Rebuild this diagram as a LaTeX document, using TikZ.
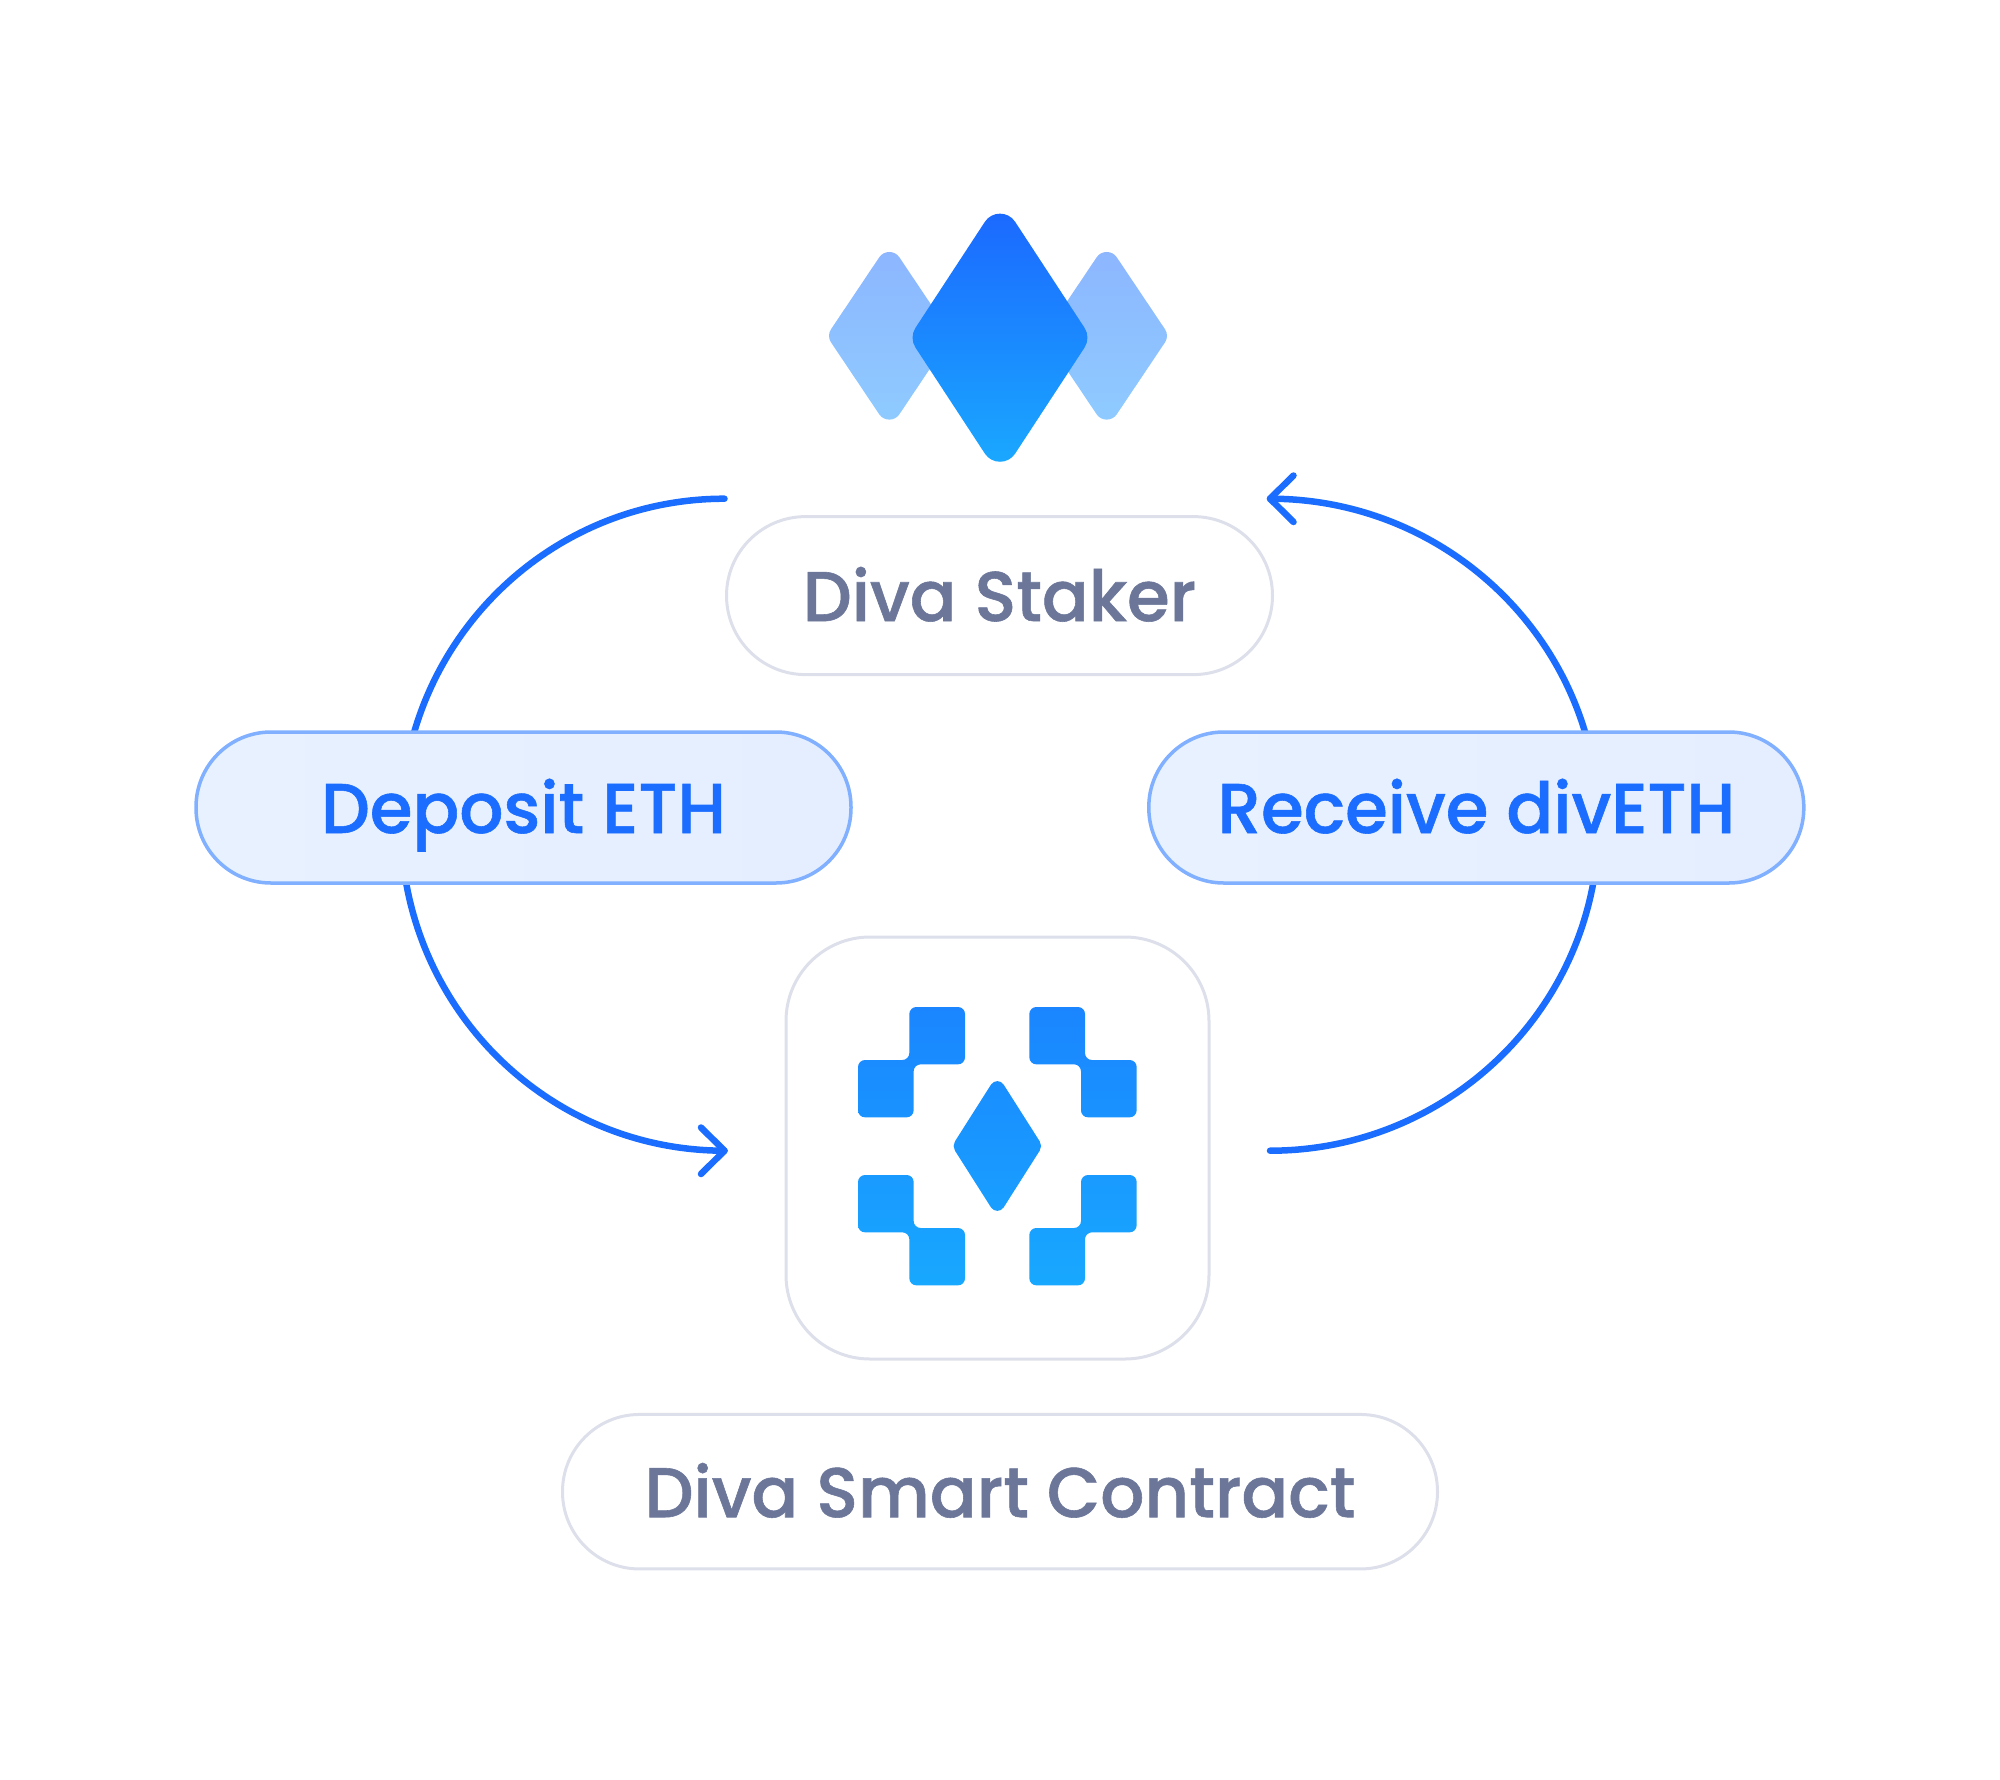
\documentclass[tikz,border=0pt]{standalone}
\usepackage{fontspec}
\setmainfont{Poppins Medium}[FakeStretch=0.98,FakeBold=0.8]
\definecolor{lineblue}{HTML}{1B6DFF}
\definecolor{pillblue}{HTML}{80B0FF}
\definecolor{greyline}{HTML}{DDE0EA}
\definecolor{greytext}{HTML}{6B7699}
\definecolor{pillfillA}{HTML}{E8F1FF}
\definecolor{pillfillB}{HTML}{E4EEFF}
\definecolor{logoTop}{RGB}{27,105,255}
\definecolor{logoBot}{RGB}{26,168,255}
\definecolor{softTop}{RGB}{141,182,255}
\definecolor{softBot}{RGB}{142,203,255}
\definecolor{iconTop}{RGB}{26,133,255}
\definecolor{iconBot}{RGB}{24,168,255}
% rounded diamond path: cx cy hw hh ftop fside
\newcommand\rdiam[6]{
 ({#1-#3*#5},{#2-#4*(1-#5)})
 .. controls ({#1-#3*#5*.53},{#2-#4*(1-#5*.53)}) and ({#1+#3*#5*.53},{#2-#4*(1-#5*.53)}) .. ({#1+#3*#5},{#2-#4*(1-#5)})
 -- ({#1+#3*(1-#6)},{#2-#4*#6})
 .. controls ({#1+#3*(1-#6*.4)},{#2-#4*#6*.4}) and ({#1+#3*(1-#6*.4)},{#2+#4*#6*.4}) .. ({#1+#3*(1-#6)},{#2+#4*#6})
 -- ({#1+#3*#5},{#2+#4*(1-#5)})
 .. controls ({#1+#3*#5*.53},{#2+#4*(1-#5*.53)}) and ({#1-#3*#5*.53},{#2+#4*(1-#5*.53)}) .. ({#1-#3*#5},{#2+#4*(1-#5)})
 -- ({#1-#3*(1-#6)},{#2+#4*#6})
 .. controls ({#1-#3*(1-#6*.4)},{#2+#4*#6*.4}) and ({#1-#3*(1-#6*.4)},{#2-#4*#6*.4}) .. ({#1-#3*(1-#6)},{#2-#4*#6})
 -- cycle }
\tikzset{
 arcline/.style={draw=lineblue,line width=6.5pt,line cap=round,line join=round},
 pillbase/.style={rounded corners=#1,inner sep=0pt,text height=51pt,text depth=0pt,align=center,font=\fontsize{70.5}{72}\selectfont},
 greypill/.style={pillbase=#1,draw=greyline,line width=3pt,fill=white,text=greytext},
 bluepill/.style={pillbase=#1,draw=pillblue,line width=3.5pt,left color=pillfillA,right color=pillfillB,text=lineblue},
 softgrad/.style={top color=softTop,bottom color=softBot},
 logograd/.style={top color=logoTop,bottom color=logoBot},
 icongrad/.style={top color=iconTop,bottom color=iconBot},
}
\begin{document}
\begin{tikzpicture}[x=1pt,y=-1pt]
\useasboundingbox (0,0) rectangle (2000,1780);
% connector coordinates
\coordinate (ltop) at (724.5,498.7);
\coordinate (lmid) at (401,824.6);
\coordinate (lbot) at (724.5,1150.7);
\coordinate (rtop) at (1270,498.7);
\coordinate (rmid) at (1598.5,824.6);
\coordinate (rbot) at (1270,1150.7);
\coordinate (lw1) at (701,1127.5);
\coordinate (lw2) at (701,1174);
\coordinate (rw1) at (1293.5,475.5);
\coordinate (rw2) at (1293.5,522);
\draw[arcline] (ltop) .. controls +(-179,0) and +(0,-180) .. (lmid) .. controls +(0,180) and +(-179,0) .. (lbot);
\draw[arcline] (rbot) .. controls +(181,0) and +(0,180) .. (rmid) .. controls +(0,-180) and +(181,0) .. (rtop);
\draw[arcline] (lw1) -- (lbot) -- (lw2);
\draw[arcline] (rw1) -- (rtop) -- (rw2);
% top logo
\shade[softgrad] \rdiam{889.3}{335.8}{62.7}{93.5}{.16}{.07};
\shade[softgrad] \rdiam{1106.7}{335.8}{62.7}{93.5}{.16}{.07};
\shade[logograd] \rdiam{1000}{337.7}{91}{139}{.166}{.071};
% icon
\draw[greyline,line width=3pt,rounded corners=84pt,fill=white] (786,937) rectangle (1209,1359);
\begin{scope}[shift={(780,930)},x=.33333pt,y=-.33333pt]
\shade[icongrad]
 [rounded corners=7pt]
 (388,231) -- (555,231) -- (555,403) -- (401,403) -- (401,562) -- (234,562) -- (234,390) -- (388,390) -- cycle
 (915,231) -- (748,231) -- (748,403) -- (903,403) -- (903,562) -- (1070,562) -- (1070,390) -- (915,390) -- cycle
 (234,735) -- (401,735) -- (401,894) -- (555,894) -- (555,1066) -- (388,1066) -- (388,907) -- (234,907) -- cycle
 (1070,735) -- (903,735) -- (903,894) -- (748,894) -- (748,1066) -- (915,1066) -- (915,907) -- (1070,907) -- cycle
 [sharp corners] \rdiam{652}{648}{136}{214}{.14}{.065};
\end{scope}
% pills
\node[greypill=79pt,minimum width=546pt,minimum height=158pt] (staker) at (999.5,595.6) {Diva Staker};
\node[bluepill=75pt,minimum width=655pt,minimum height=151pt] (deposit) at (523.5,807.5) {Deposit ETH};
\node[bluepill=75pt,minimum width=655pt,minimum height=151pt] (receive) at (1476.3,807.5) {Receive divETH};
\node[greypill=77pt,minimum width=875pt,minimum height=154.5pt] (contract) at (1000,1491.7) {Diva Smart Contract};
\end{tikzpicture}
\end{document}
